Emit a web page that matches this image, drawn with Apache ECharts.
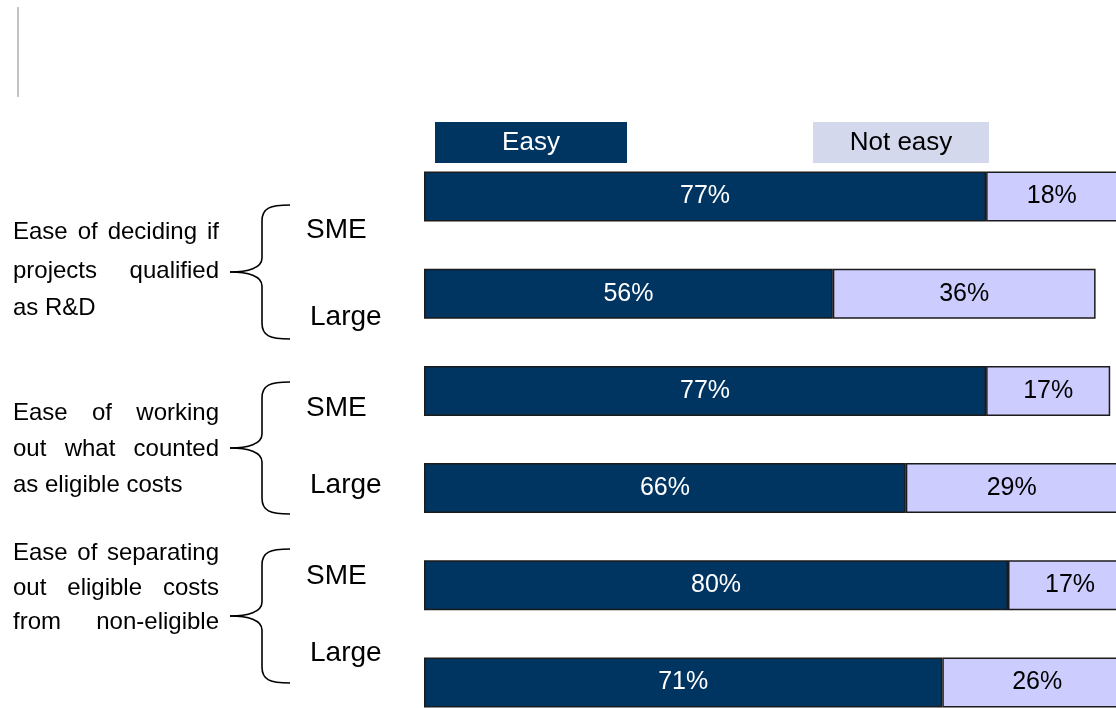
<!DOCTYPE html>
<html>
<head>
<meta charset="utf-8">
<script src="https://cdn.jsdelivr.net/npm/echarts@6/dist/echarts.min.js"></script>
<style>
  html, body { margin: 0; padding: 0; background: #ffffff; }
  #chart { width: 1116px; height: 708px; }
</style>
</head>
<body>
<div id="chart"></div>
<script>
// Share of businesses finding each R&D claim step easy / not easy
const rowIds = ['Deciding SME', 'Deciding Large', 'Costs SME', 'Costs Large', 'Separating SME', 'Separating Large'];
const sizeLabels = ['SME', 'Large', 'SME', 'Large', 'SME', 'Large'];
const easy = [77, 56, 77, 66, 80, 71];
const notEasy = [18, 36, 17, 29, 17, 26];
const seriesNames = ['Easy', 'Not easy'];
const groupLines = [
  ['Ease of deciding if', 'projects qualified', 'as R&D'],
  ['Ease of working', 'out what counted', 'as eligible costs'],
  ['Ease of separating', 'out eligible costs', 'from non-eligible']
];
// last line of each block is set flush-left unless marked here
const lastLineJustified = [false, false, true];

const FONT = '"Liberation Sans", Arial, sans-serif';
const NAVY = '#003562';
const LILAC = '#CCCCFF';

const chart = echarts.init(document.getElementById('chart'), null, { renderer: 'canvas' });

// measure words so the left-hand descriptions can be justified
const ctx = document.createElement('canvas').getContext('2d');
const descSize = 24;
ctx.font = descSize + 'px ' + FONT;

const graphics = [];

// thin grey rule at the top-left
graphics.push({
  type: 'rect', shape: { x: 17, y: 7, width: 2, height: 90 },
  style: { fill: '#c3c3c3' }, silent: true
});

// legend boxes with their labels inside
const legendBoxes = [
  { x: 435, w: 192, fill: NAVY, text: seriesNames[0], color: '#ffffff' },
  { x: 813, w: 176, fill: '#D3D8EC', text: seriesNames[1], color: '#000000' }
];
legendBoxes.forEach(b => {
  graphics.push({ type: 'rect', shape: { x: b.x, y: 122, width: b.w, height: 41 }, style: { fill: b.fill } });
  graphics.push({
    type: 'text', x: b.x + b.w / 2, y: 143,
    style: { text: b.text, font: '26px ' + FONT, fill: b.color, align: 'center', verticalAlign: 'middle' }
  });
});

// description blocks, braces and size labels for each group
const blockLineY = [[232, 271, 308], [413, 449, 485], [553, 588, 622]];
const braces = [
  { top: 205, tip: 272, bottom: 339 },
  { top: 382, tip: 448, bottom: 514 },
  { top: 549, tip: 616, bottom: 683 }
];
const sizeLabelY = [230, 317, 408, 485, 576, 653];
const textLeft = 13, textRight = 219;

const braceStyle = { stroke: '#000', lineWidth: 1.6, fill: null };

groupLines.forEach((lines, g) => {
  lines.forEach((line, i) => {
    const y = blockLineY[g][i];
    const words = line.split(' ');
    const justify = (i < lines.length - 1 || lastLineJustified[g]) && words.length > 1;
    if (!justify) {
      graphics.push({
        type: 'text', x: textLeft, y: y,
        style: { text: line, font: descSize + 'px ' + FONT, fill: '#000', align: 'left', verticalAlign: 'middle' }
      });
      return;
    }
    const widths = words.map(w => ctx.measureText(w).width);
    const total = widths.reduce((a, b) => a + b, 0);
    const gap = (textRight - textLeft - total) / (words.length - 1);
    let x = textLeft;
    words.forEach((w, k) => {
      graphics.push({
        type: 'text', x: x, y: y,
        style: { text: w, font: descSize + 'px ' + FONT, fill: '#000', align: 'left', verticalAlign: 'middle' }
      });
      x += widths[k] + gap;
    });
  });

  // curly brace built from curves and straight runs
  const b = braces[g];
  const vx = 262, ex = 290, tx = 230;
  const pieces = [
    { type: 'bezierCurve', shape: { x1: ex, y1: b.top, cpx1: vx + 8, cpy1: b.top, cpx2: vx, cpy2: b.top + 3, x2: vx, y2: b.top + 16 } },
    { type: 'line', shape: { x1: vx, y1: b.top + 16, x2: vx, y2: b.tip - 14 } },
    { type: 'bezierCurve', shape: { x1: vx, y1: b.tip - 14, cpx1: vx, cpy1: b.tip - 4, cpx2: vx - 14, cpy2: b.tip, x2: tx, y2: b.tip } },
    { type: 'bezierCurve', shape: { x1: tx, y1: b.tip, cpx1: vx - 14, cpy1: b.tip, cpx2: vx, cpy2: b.tip + 4, x2: vx, y2: b.tip + 14 } },
    { type: 'line', shape: { x1: vx, y1: b.tip + 14, x2: vx, y2: b.bottom - 16 } },
    { type: 'bezierCurve', shape: { x1: vx, y1: b.bottom - 16, cpx1: vx, cpy1: b.bottom - 3, cpx2: vx + 8, cpy2: b.bottom, x2: ex, y2: b.bottom } }
  ];
  pieces.forEach(p => { p.style = braceStyle; graphics.push(p); });
});

sizeLabels.forEach((s, i) => {
  graphics.push({
    type: 'text', x: s === 'SME' ? 306 : 310, y: sizeLabelY[i],
    style: { text: s, font: '28px ' + FONT, fill: '#000', align: 'left', verticalAlign: 'middle' }
  });
});

const barLabel = (color) => ({
  show: true, position: 'inside', formatter: p => p.value + '%',
  fontFamily: FONT, fontSize: 25, color: color
});

chart.setOption({
  animation: false,
  backgroundColor: '#ffffff',
  // plot runs past the right and bottom edges, so bounds are not clamped
  grid: { left: 424, top: 148, width: 730, height: 583, containLabel: false, outerBoundsMode: 'none' },
  xAxis: { type: 'value', min: 0, max: 100, show: false },
  yAxis: { type: 'category', data: rowIds, inverse: true, show: false },
  graphic: graphics,
  series: [
    {
      name: seriesNames[0], type: 'bar', stack: 'total', data: easy, barWidth: 50,
      itemStyle: { color: NAVY, borderColor: '#1b1b1b', borderWidth: 1.5 },
      label: barLabel('#ffffff')
    },
    {
      name: seriesNames[1], type: 'bar', stack: 'total', data: notEasy, barWidth: 50,
      itemStyle: { color: LILAC, borderColor: '#1b1b1b', borderWidth: 1.5 },
      label: barLabel('#000000')
    }
  ]
});
</script>
</body>
</html>
